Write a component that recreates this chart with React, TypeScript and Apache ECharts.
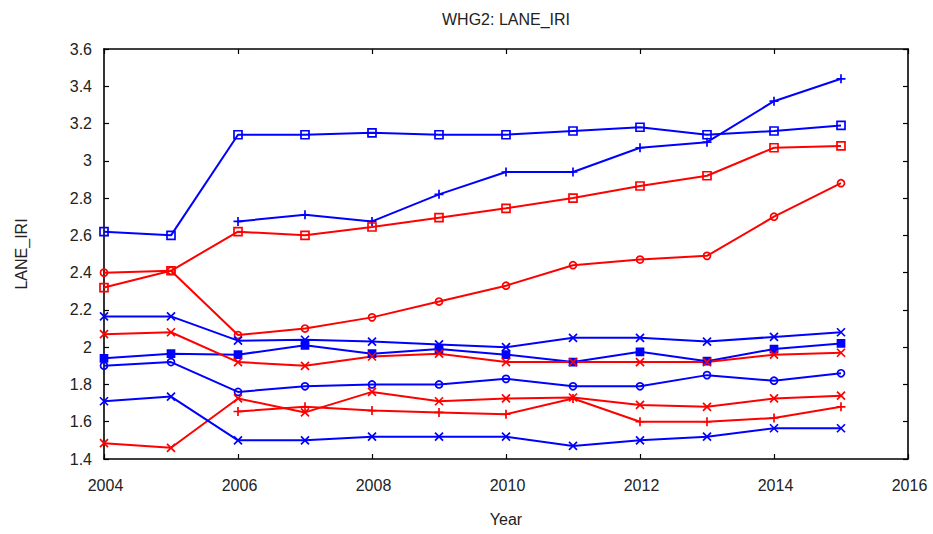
import React, { useEffect, useRef } from 'react';
import * as echarts from 'echarts';

const years = [2004, 2005, 2006, 2007, 2008, 2009, 2010, 2011, 2012, 2013, 2014, 2015];

const blueSquare = [2.62, 2.60, 3.14, 3.14, 3.15, 3.14, 3.14, 3.16, 3.18, 3.14, 3.16, 3.19];
const bluePlus = [null, null, 2.675, 2.71, 2.675, 2.82, 2.94, 2.94, 3.07, 3.10, 3.32, 3.44];
const redSquare = [2.32, 2.41, 2.62, 2.60, 2.645, 2.695, 2.745, 2.80, 2.865, 2.92, 3.07, 3.08];
const redCircle = [2.40, 2.41, 2.065, 2.10, 2.16, 2.245, 2.33, 2.44, 2.47, 2.49, 2.70, 2.88];
const blueXUpper = [2.165, 2.165, 2.035, 2.04, 2.03, 2.015, 2.00, 2.05, 2.05, 2.03, 2.055, 2.08];
const blueFilled = [1.94, 1.965, 1.96, 2.01, 1.965, 1.99, 1.96, 1.92, 1.975, 1.925, 1.99, 2.02];
const redXUpper = [2.07, 2.08, 1.92, 1.90, 1.95, 1.965, 1.92, 1.92, 1.92, 1.92, 1.96, 1.97];
const blueCircle = [1.90, 1.92, 1.76, 1.79, 1.80, 1.80, 1.83, 1.79, 1.79, 1.85, 1.82, 1.86];
const redXLower = [1.485, 1.46, 1.725, 1.65, 1.76, 1.71, 1.725, 1.73, 1.69, 1.68, 1.725, 1.74];
const redPlus = [null, null, 1.655, 1.68, 1.66, 1.65, 1.64, 1.725, 1.60, 1.60, 1.62, 1.68];
const blueXLower = [1.71, 1.735, 1.50, 1.50, 1.52, 1.52, 1.52, 1.47, 1.50, 1.52, 1.565, 1.565];

const xTicks = { min: 2004, max: 2016, interval: 2 };
const yTicks = { min: 1.4, max: 3.6, interval: 0.2 };

const BLUE = '#0000ff';
const RED = '#ff0000';
const X_PATH = 'path://M0,0L10,10M10,0L0,10';
const PLUS_PATH = 'path://M5,0L5,10M0,5L10,5';
const FONT = '"Liberation Sans", Arial, sans-serif';

function mk(name: string, values: (number | null)[], color: string, symbol: string, size: number, filled = false) {
  return {
    name,
    type: 'line',
    data: years.map((y, i) => [y, values[i]]),
    connectNulls: false,
    symbol,
    symbolSize: size,
    showSymbol: true,
    lineStyle: { color, width: 2 },
    itemStyle: {
      color: filled ? color : 'rgba(255,255,255,0)',
      borderColor: color,
      borderWidth: 1.7,
    },
    emphasis: { disabled: true },
    z: 2,
  };
}

export default function App() {
  const ref = useRef<HTMLDivElement>(null);
  useEffect(() => {
    document.body.style.margin = '0';
    const chart = echarts.init(ref.current!, null, { renderer: 'svg' });
    const axisLine = { show: true, lineStyle: { color: '#000', width: 1.6 } };
    const axisTick = { show: true, inside: true, length: 5, lineStyle: { color: '#000', width: 1.2 } };
    const labelStyle = { fontSize: 16, color: '#222', fontFamily: FONT };
    chart.setOption({
      animation: false,
      backgroundColor: '#fff',
      grid: { left: 104, right: 25, top: 49, bottom: 75 },
      graphic: [
        {
          type: 'text',
          x: 506,
          y: 19,
          style: {
            text: 'WHG2: LANE_IRI',
            fontSize: 16,
            fontFamily: FONT,
            fill: '#222',
            align: 'center',
            verticalAlign: 'middle',
          },
        },
      ],
      xAxis: [
        {
          type: 'value',
          position: 'bottom',
          ...xTicks,
          axisLine,
          axisTick,
          splitLine: { show: false },
          axisLabel: { ...labelStyle, margin: 18, padding: [0, 0, 0, 3], formatter: (v: number) => String(v) },
          name: 'Year',
          nameLocation: 'middle',
          nameGap: 52,
          nameTextStyle: labelStyle,
        },
        {
          type: 'value',
          position: 'top',
          ...xTicks,
          axisLine,
          axisTick,
          splitLine: { show: false },
          axisLabel: { show: false },
        },
      ],
      yAxis: [
        {
          type: 'value',
          position: 'left',
          ...yTicks,
          axisLine,
          axisTick,
          splitLine: { show: false },
          axisLabel: {
            ...labelStyle,
            margin: 12,
            padding: [7, 0, 0, 0],
            formatter: (v: number) => String(Math.round(v * 10) / 10),
          },
          name: 'LANE_IRI',
          nameLocation: 'middle',
          nameGap: 75,
          nameTextStyle: labelStyle,
        },
        {
          type: 'value',
          position: 'right',
          ...yTicks,
          axisLine,
          axisTick,
          splitLine: { show: false },
          axisLabel: { show: false },
        },
      ],
      series: [
        mk('Blue square', blueSquare, BLUE, 'rect', 8),
        mk('Blue plus', bluePlus, BLUE, PLUS_PATH, 9),
        mk('Red square', redSquare, RED, 'rect', 8),
        mk('Red circle', redCircle, RED, 'circle', 7),
        mk('Blue x upper', blueXUpper, BLUE, X_PATH, 8),
        mk('Blue filled', blueFilled, BLUE, 'rect', 7, true),
        mk('Red x upper', redXUpper, RED, X_PATH, 8),
        mk('Blue circle', blueCircle, BLUE, 'circle', 7),
        mk('Red x lower', redXLower, RED, X_PATH, 8),
        mk('Red plus', redPlus, RED, PLUS_PATH, 9),
        mk('Blue x lower', blueXLower, BLUE, X_PATH, 8),
      ],
    });
    return () => chart.dispose();
  }, []);
  return <div ref={ref} style={{ width: 933, height: 534 }} />;
}
